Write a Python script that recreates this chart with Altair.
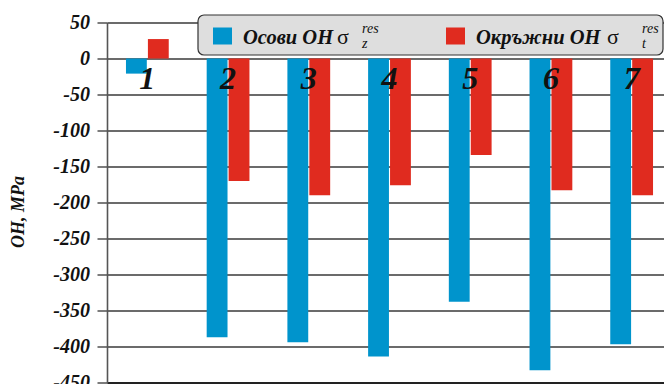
import altair as alt
import pandas as pd

categories = ["1", "2", "3", "4", "5", "6", "7"]
series_names = ["Осови ОН", "Окръжни ОН"]
series_sub = ["z", "t"]
series_sup = ["res", "res"]
axial = [-21, -387, -394, -414, -338, -433, -397]
hoop = [27, -170, -190, -176, -134, -183, -190]
y_ticks = [50, 0, -50, -100, -150, -200, -250, -300, -350, -400, -450]
y_tick_labels = ["50", "0", "-50", "-100", "-150", "-200", "-250", "-300", "-350", "-400", "-450"]
colors = ["#0094cc", "#e02b1f"]

rows = []
for i, c in enumerate(categories):
    rows.append({"cat": c, "series": series_names[0], "value": axial[i]})
    rows.append({"cat": c, "series": series_names[1], "value": hoop[i]})
df = pd.DataFrame(rows)
cat_df = pd.DataFrame({"cat": categories, "zero": [0] * len(categories)})
tick_df = pd.DataFrame({"tick": y_ticks, "label": y_tick_labels})
one = pd.DataFrame({"k": [0]})

FONT = "Liberation Serif"

y_scale = alt.Scale(domain=[-450, 50], nice=False, zero=False)

bars = alt.Chart(df).mark_bar().encode(
    x=alt.X("cat:N", sort=categories,
            scale=alt.Scale(paddingInner=0.47, paddingOuter=0.235, range=[0, 565]),
            axis=alt.Axis(labels=False, ticks=False, title=None, grid=False,
                          domainColor="#222", domainWidth=2)),
    xOffset=alt.XOffset("series:N", sort=series_names,
                        scale=alt.Scale(paddingInner=0.05)),
    y=alt.Y("value:Q", scale=y_scale,
            axis=alt.Axis(values=y_ticks, title="ОН, MPa", labels=False,
                          tickSize=10, tickColor="#444", tickWidth=1.4,
                          domainColor="#555", domainWidth=1.6,
                          grid=True, gridColor="#3a3a3a", gridWidth=1.4, gridOpacity=1,
                          titleFont=FONT, titleFontSize=18, titleFontStyle="italic",
                          titleFontWeight="bold", titleColor="#111",
                          titleX=-80, titleY=189)),
    color=alt.Color("series:N", sort=series_names,
                    scale=alt.Scale(domain=series_names, range=colors), legend=None),
)

tick_labels = alt.Chart(tick_df).mark_text(
    font=FONT, fontSize=20, fontStyle="italic", fontWeight="bold",
    color="#111", align="right", baseline="middle"
).encode(
    x=alt.value(-17),
    y=alt.Y("tick:Q", scale=y_scale, axis=None),
    text="label:N",
)

cat_labels = alt.Chart(cat_df).mark_text(
    font=FONT, fontSize=32, fontStyle="italic", fontWeight="bold",
    color="#111", baseline="alphabetic", dy=30, align="center"
).encode(
    x=alt.X("cat:N", sort=categories, axis=None),
    y=alt.Y("zero:Q", scale=y_scale, axis=None),
    text="cat:N",
)

box = alt.Chart(one).mark_rect(fill="#dedede", stroke="#333", strokeWidth=1.2,
                               cornerRadius=6).encode(
    x=alt.value(91), x2=alt.value(556), y=alt.value(-7.5), y2=alt.value(32.5))

legend_layers = [box]
sq_x = [106, 339]
txt_x = [136, 369]
sig_x = [230, 500]
sub_x = [255, 535]
for j in range(2):
    legend_layers.append(alt.Chart(one).mark_rect(fill=colors[j]).encode(
        x=alt.value(sq_x[j]), x2=alt.value(sq_x[j] + 19),
        y=alt.value(5), y2=alt.value(22)))
    legend_layers.append(alt.Chart(one).mark_text(
        font=FONT, fontSize=20.5, fontStyle="italic", fontWeight="bold",
        color="#111", align="left", baseline="alphabetic").encode(
        x=alt.value(txt_x[j]), y=alt.value(21), text=alt.value(series_names[j])))
    legend_layers.append(alt.Chart(one).mark_text(
        font=FONT, fontSize=22, color="#111", align="left",
        baseline="alphabetic").encode(
        x=alt.value(sig_x[j]), y=alt.value(21), text=alt.value("σ")))
    legend_layers.append(alt.Chart(one).mark_text(
        font=FONT, fontSize=14, fontStyle="italic", color="#111", align="left",
        baseline="alphabetic").encode(
        x=alt.value(sub_x[j]), y=alt.value(25), text=alt.value(series_sub[j])))
    legend_layers.append(alt.Chart(one).mark_text(
        font=FONT, fontSize=14, fontStyle="italic", color="#111", align="left",
        baseline="alphabetic").encode(
        x=alt.value(sub_x[j]), y=alt.value(10), text=alt.value(series_sup[j])))

chart = alt.layer(bars, tick_labels, cat_labels, *legend_layers).properties(
    width=557, height=360, autosize="none",
    padding={"left": 99, "top": 14.5, "right": 0, "bottom": 1.5},
).resolve_axis(y="independent", x="independent").configure_view(
    stroke=None
).configure_axisY(gridColor="#3a3a3a", gridOpacity=1, gridWidth=1.4)

chart.save("out.html", embed_options={"renderer": "svg", "actions": False})
